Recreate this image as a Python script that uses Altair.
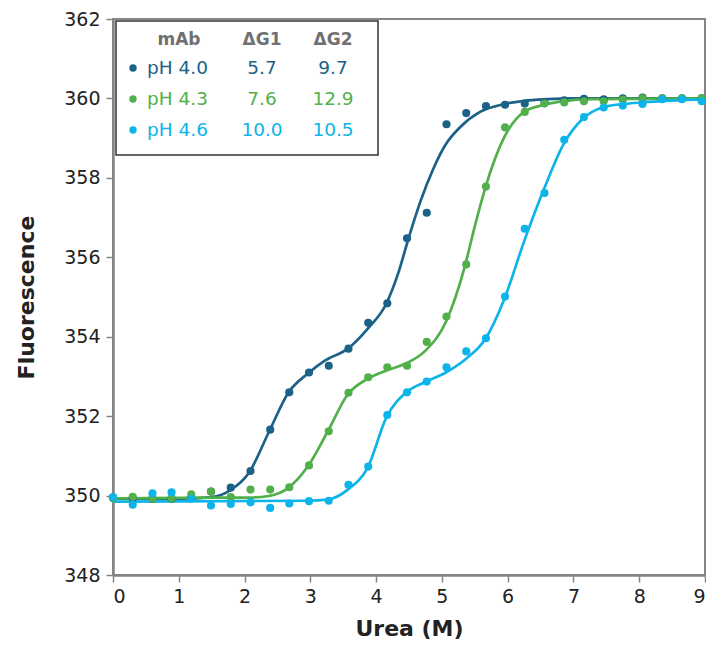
import altair as alt
import pandas as pd

# ---------------- data ----------------
series = ["pH 4.0", "pH 4.3", "pH 4.6"]
colors = ["#1b6188", "#52b04a", "#0cb4ea"]
dG1 = ["5.7", "7.6", "10.0"]
dG2 = ["9.7", "12.9", "10.5"]

urea = [0.0, 0.3, 0.6, 0.89, 1.19, 1.49, 1.79, 2.09, 2.39, 2.68, 2.98, 3.28,
        3.58, 3.88, 4.17, 4.47, 4.77, 5.07, 5.37, 5.67, 5.96, 6.26, 6.56,
        6.86, 7.16, 7.46, 7.75, 8.05, 8.35, 8.65, 8.95]

pts_ph40 = [349.95, 349.93, 349.92, 349.92, 349.95, 350.10, 350.20, 350.62,
            351.66, 352.60, 353.10, 353.27, 353.70, 354.35, 354.84, 356.48,
            357.12, 359.35, 359.63, 359.81, 359.84, 359.87, 359.91, 359.95,
            359.99, 359.98, 360.00, 360.02, 360.00, 360.00, 360.00]
pts_ph43 = [349.93, 349.97, 349.92, 349.93, 350.03, 350.10, 349.96, 350.15,
            350.15, 350.21, 350.76, 351.62, 352.59, 352.98, 353.23, 353.27,
            353.87, 354.51, 355.82, 357.78, 359.27, 359.66, 359.87, 359.90,
            359.93, 359.93, 359.97, 360.00, 360.00, 360.00, 360.00]
pts_ph46 = [349.96, 349.77, 350.06, 350.08, 349.92, 349.75, 349.79, 349.83,
            349.69, 349.80, 349.86, 349.87, 350.27, 350.73, 352.03, 352.60,
            352.87, 353.23, 353.63, 353.96, 355.01, 356.72, 357.62, 358.96,
            359.53, 359.77, 359.82, 359.86, 359.98, 359.98, 359.93]

fit_x_ph40 = [0.0, 1.0, 1.5, 1.78, 2.07, 2.37, 2.67, 2.96, 3.22, 3.57, 3.87,
              4.16, 4.34, 4.49, 4.67, 4.87, 5.05, 5.28, 5.58, 5.95, 6.25, 6.6,
              7.0, 9.0]
fit_y_ph40 = [349.92, 349.92, 349.96, 350.13, 350.58, 351.60, 352.60, 353.07,
              353.40, 353.70, 354.20, 354.85, 355.62, 356.46, 357.39, 358.23,
              358.82, 359.28, 359.66, 359.86, 359.94, 359.98, 360.0, 360.0]

fit_x_ph43 = [0.0, 1.76, 2.07, 2.37, 2.67, 2.96, 3.26, 3.57, 3.87, 4.16, 4.46,
              4.75, 5.06, 5.35, 5.5, 5.66, 5.95, 6.25, 6.56, 6.85, 7.3, 9.0]
fit_y_ph43 = [349.93, 349.95, 349.95, 349.99, 350.20, 350.73, 351.60, 352.55,
              352.94, 353.15, 353.33, 353.65, 354.37, 355.78, 356.78, 357.75,
              359.03, 359.66, 359.84, 359.93, 359.98, 360.0]

fit_x_ph46 = [0.0, 2.96, 3.26, 3.57, 3.87, 4.16, 4.46, 4.75, 5.06, 5.35, 5.66,
              5.95, 6.25, 6.56, 6.85, 7.15, 7.45, 7.76, 8.05, 9.0]
fit_y_ph46 = [349.85, 349.87, 349.90, 350.15, 350.70, 351.98, 352.60, 352.86,
              353.10, 353.42, 353.94, 354.95, 356.40, 357.75, 358.85, 359.50,
              359.78, 359.86, 359.90, 359.98]

x_ticks = [0, 1, 2, 3, 4, 5, 6, 7, 8, 9]
y_ticks = [348, 350, 352, 354, 356, 358, 360, 362]

# ---------------- tables ----------------
pts = pd.concat([
    pd.DataFrame({"urea": urea, "fl": v, "s": s, "o": k})
    for k, (s, v) in enumerate(zip(series, [pts_ph40, pts_ph43, pts_ph46]))
])
fits = pd.concat([
    pd.DataFrame({"urea": fx, "fl": fy, "s": s, "o": k})
    for k, (s, fx, fy) in enumerate(zip(series,
                                        [fit_x_ph40, fit_x_ph43, fit_x_ph46],
                                        [fit_y_ph40, fit_y_ph43, fit_y_ph46]))
])

FONT = "DejaVu Sans"
AXIS_GRAY = "#858585"

xs = alt.Scale(domain=[0, 9], nice=False)
ys = alt.Scale(domain=[348, 362], nice=False)
cs = alt.Scale(domain=series, range=colors)

xenc = alt.X("urea:Q", scale=xs,
             axis=alt.Axis(title="Urea (M)", values=x_ticks, format="d",
                           grid=False, titlePadding=12, labelPadding=5))
yenc = alt.Y("fl:Q", scale=ys,
             axis=alt.Axis(title="Fluorescence", values=y_ticks, format="d",
                           grid=False, titlePadding=25, labelPadding=6))

lines = alt.Chart(fits).mark_line(strokeWidth=2.7, interpolate="monotone").encode(
    x=xenc, y=yenc,
    color=alt.Color("s:N", scale=cs, legend=None),
    detail="s:N", order="urea:Q",
)
points = alt.Chart(pts).mark_circle(size=66, opacity=1).encode(
    x="urea:Q", y="fl:Q",
    color=alt.Color("s:N", scale=cs, legend=None),
    order="o:Q",
)

one = pd.DataFrame({"a": [0]})
layers = [lines, points]

# legend box
layers.append(alt.Chart(one).mark_rect(fill="white", stroke="#333", strokeWidth=1.5).encode(
    x=alt.value(3), x2=alt.value(265), y=alt.value(2), y2=alt.value(136)))

header_x = [66, 149, 220]
header_t = ["mAb", "ΔG1", "ΔG2"]
for hx, ht in zip(header_x, header_t):
    layers.append(alt.Chart(one).mark_text(
        text=ht, font=FONT, fontSize=17, fontWeight="bold", color="#707070",
        align="center", baseline="middle").encode(x=alt.value(hx), y=alt.value(21)))

row_y = [49, 80, 111]
for s, c, g1, g2, ry in zip(series, colors, dG1, dG2, row_y):
    layers.append(alt.Chart(one).mark_circle(size=55, color=c, opacity=1).encode(
        x=alt.value(20), y=alt.value(ry)))
    layers.append(alt.Chart(one).mark_text(
        text=s, font=FONT, fontSize=18.5, color=c, align="left",
        baseline="middle").encode(x=alt.value(34), y=alt.value(ry)))
    layers.append(alt.Chart(one).mark_text(
        text=g1, font=FONT, fontSize=18.5, color=c, align="center",
        baseline="middle").encode(x=alt.value(149), y=alt.value(ry)))
    layers.append(alt.Chart(one).mark_text(
        text=g2, font=FONT, fontSize=18.5, color=c, align="center",
        baseline="middle").encode(x=alt.value(220), y=alt.value(ry)))

chart = alt.layer(*layers).properties(
    width=592, height=556,
    autosize=alt.AutoSizeParams(type="none"),
    padding={"left": 105, "top": 11, "right": 1, "bottom": 68},
).configure_view(
    stroke=AXIS_GRAY, strokeWidth=2
).configure_axis(
    domainColor=AXIS_GRAY, domainWidth=2.5, tickColor=AXIS_GRAY, tickWidth=1.5,
    tickSize=7, labelFont=FONT, labelFontSize=19, labelColor="#222",
    titleFont=FONT, titleFontSize=22, titleFontWeight="bold", titleColor="#222",
)

chart.save("out.html", embed_options={"renderer": "svg", "actions": False})
